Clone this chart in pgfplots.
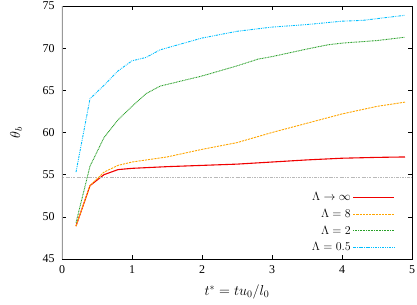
\documentclass[border=0pt]{standalone}
\usepackage{pgfplots}
\pgfplotsset{compat=1.18}
\usepackage{fontspec}
\setmainfont{Liberation Serif}
\definecolor{cred}{RGB}{240,0,0}
\definecolor{corange}{RGB}{255,165,0}
\definecolor{cgreen}{RGB}{40,160,40}
\definecolor{cblue}{RGB}{0,190,255}
\begin{document}
\begin{tikzpicture}
\begin{axis}[
  name=ax,
  scale only axis,
  width=350bp, height=253bp,
  xmin=0, xmax=5, ymin=45, ymax=75,
  xtick={0,1,2,3,4,5}, ytick={45,50,55,60,65,70,75},
  xticklabels={0,1,2,3,4,5}, yticklabels={45,50,55,60,65,70,75},
  tick align=inside, major tick length=4bp,
  tick style={black, line width=0.5pt},
  axis line style={black, line width=0.8pt},
  ticklabel style={font=\fontsize{12}{14}\selectfont},
  yticklabel style={xshift=-4bp},
  xticklabel style={yshift=-3bp},
  xlabel={\ensuremath{t^{*} = t u_{0} / l_{0}}}, ylabel={\ensuremath{\theta_{b}}},
  label style={font=\fontsize{14}{16}\selectfont},
  ylabel style={at={(rel axis cs:-0.131,0.5)}, anchor=center},
  xlabel style={at={(rel axis cs:0.5,-0.13)}, anchor=center},
  legend cell align=right,
  legend plot pos=right,
  legend image post style={xscale=2.4},
  legend style={draw=none, fill=none, font=\fontsize{12}{14}\selectfont, at={(rel axis cs:0.951,0.018)}, anchor=south east, inner sep=0pt, row sep=3bp},
]
\addplot[color=cred, line width=1.1pt] coordinates {
(0.2,48.9) (0.4,53.7) (0.6,55.0) (0.8,55.6) (1.0,55.75) (1.5,55.95) (2.0,56.1) (2.5,56.25) (3.0,56.5) (3.5,56.75) (4.0,56.95) (4.5,57.05) (4.9,57.1)};
\addlegendentry{\ensuremath{\Lambda \to \infty}}
\addplot[color=corange, line width=0.9pt, dash pattern=on 2.2pt off 1pt] coordinates {
(0.2,48.9) (0.4,53.7) (0.6,55.3) (0.8,56.1) (1.0,56.5) (1.5,57.1) (2.0,58.0) (2.5,58.8) (3.0,60.0) (3.5,61.1) (4.0,62.2) (4.5,63.1) (4.9,63.6)};
\addlegendentry{\ensuremath{\Lambda = 8}}
\addplot[color=cgreen, line width=0.9pt, dash pattern=on 0.9pt off 0.7pt] coordinates {
(0.2,49.3) (0.4,56.0) (0.6,59.4) (0.8,61.5) (1.0,63.1) (1.2,64.6) (1.4,65.5) (1.7,66.1) (2.0,66.7) (2.5,67.9) (2.8,68.7) (3.0,69.0) (3.5,69.9) (3.8,70.4) (4.0,70.6) (4.5,70.9) (4.9,71.3)};
\addlegendentry{\ensuremath{\Lambda = 2}}
\addplot[color=cblue, line width=0.9pt, dash pattern=on 2.5pt off 1pt on 0.8pt off 1pt on 0.8pt off 1pt] coordinates {
(0.2,55.3) (0.4,64.0) (0.6,65.6) (0.8,67.3) (1.0,68.5) (1.2,68.9) (1.4,69.8) (1.7,70.5) (2.0,71.2) (2.5,72.0) (3.0,72.5) (3.5,72.8) (4.0,73.2) (4.3,73.3) (4.6,73.6) (4.9,73.9)};
\addlegendentry{\ensuremath{\Lambda = 0.5}}
\draw[gray!55, dash pattern=on 2.5pt off 1.2pt on 0.6pt off 1.2pt, line width=0.4pt] (axis cs:0,54.7) -- (axis cs:5,54.7);
\draw[gray!80, line width=1.6pt] (rel axis cs:0,0) -- (rel axis cs:0,1);
\end{axis}
\pgfresetboundingbox
\path ([shift={(-62bp,-46bp)}]ax.south west) rectangle ([shift={(5bp,6bp)}]ax.north east);
\end{tikzpicture}
\end{document}
